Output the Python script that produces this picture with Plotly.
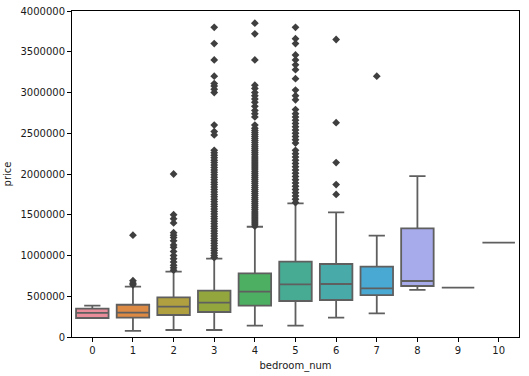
import plotly.graph_objects as go

categories = ["0", "1", "2", "3", "4", "5", "6", "7", "8", "9", "10"]
q1 = [233000, 237000, 270000, 307000, 384000, 442000, 454000, 515000, 626000, 605000, 1157000]
median = [295000, 298000, 372000, 421000, 556000, 646000, 650000, 597000, 687000, 605000, 1157000]
q3 = [347000, 396000, 487000, 568000, 781000, 924000, 896000, 863000, 1334000, 605000, 1157000]
lower = [233000, 74000, 86000, 86000, 139000, 139000, 237000, 291000, 577000, 605000, 1157000]
upper = [384000, 617000, 801000, 961000, 1353000, 1640000, 1530000, 1243000, 1975000, 605000, 1157000]
colors = ["#e98d9b", "#dd8a45", "#b0a040", "#93a63e", "#4daf62", "#47aa93",
          "#49aaaa", "#4aa9d3", "#a7aaeb", "#c98ce6", "#e48bc8"]

outliers = {
    "1": [640000, 660000, 690000, 1250000],
    "2": [820000, 850000, 880000, 920000, 960000, 1000000, 1050000, 1100000, 1130000,
          1180000, 1220000, 1250000, 1280000, 1400000, 1450000, 1500000, 2000000],
    "3": [975000, 1000000, 1030000, 1060000, 1090000, 1120000, 1150000, 1180000, 1210000,
          1240000, 1270000, 1300000, 1330000, 1360000, 1390000, 1420000, 1450000, 1480000,
          1510000, 1540000, 1570000, 1600000, 1630000, 1660000, 1690000, 1720000, 1750000,
          1780000, 1810000, 1840000, 1870000, 1900000, 1930000, 1960000, 1990000, 2020000,
          2050000, 2080000, 2110000, 2140000, 2170000, 2200000, 2230000, 2260000, 2290000,
          2480000, 2520000, 2600000, 3000000, 3040000, 3080000, 3110000, 3200000,
          3400000, 3600000, 3800000],
    "4": [1360000, 1385000, 1410000, 1435000, 1460000, 1485000, 1510000, 1535000, 1560000,
          1585000, 1610000, 1635000, 1660000, 1685000, 1710000, 1735000, 1760000, 1785000,
          1810000, 1835000, 1860000, 1885000, 1910000, 1935000, 1960000, 1985000, 2010000,
          2035000, 2060000, 2085000, 2110000, 2135000, 2160000, 2185000, 2210000, 2235000,
          2260000, 2285000, 2310000, 2335000, 2360000, 2385000, 2410000, 2435000, 2460000,
          2485000, 2510000, 2535000, 2560000, 2600000, 2700000, 2740000, 2780000, 2830000,
          2880000, 2920000, 2960000, 3000000, 3050000, 3090000, 3400000, 3720000, 3850000],
    "5": [1650000, 1690000, 1730000, 1770000, 1810000, 1850000, 1890000, 1930000, 1970000,
          2010000, 2050000, 2090000, 2130000, 2170000, 2210000, 2250000, 2290000,
          2380000, 2420000, 2460000, 2500000, 2540000, 2580000, 2620000, 2660000, 2700000,
          2740000, 2790000, 2910000, 2960000, 3030000, 3170000, 3280000, 3340000, 3400000,
          3460000, 3600000, 3660000, 3800000],
    "6": [1750000, 1870000, 2140000, 2630000, 3650000],
    "7": [3200000],
}

fig = go.Figure()
for i, c in enumerate(categories):
    fig.add_trace(go.Box(
        x=[c], q1=[q1[i]], median=[median[i]], q3=[q3[i]],
        lowerfence=[lower[i]], upperfence=[upper[i]],
        fillcolor=colors[i], line=dict(color="#5f5f5f", width=1.8),
        width=0.8, whiskerwidth=0.5, boxpoints=False, showlegend=False,
        hoverinfo="skip",
    ))
for c, vals in outliers.items():
    fig.add_trace(go.Scatter(
        x=[c] * len(vals), y=vals, mode="markers",
        marker=dict(symbol="diamond", size=6, color="#3f3f3f"),
        showlegend=False, hoverinfo="skip",
    ))

axis_common = dict(showline=True, linecolor="black", linewidth=1, mirror=True,
                   ticks="outside", ticklen=4, tickcolor="black", showgrid=False,
                   zeroline=False, tickfont=dict(size=10, color="#1a1a1a"),
                   ticklabeloverflow="allow", automargin=False)
fig.update_layout(
    width=529, height=376,
    margin=dict(l=72, r=10, t=11, b=39),
    paper_bgcolor="white", plot_bgcolor="white",
    font=dict(family="DejaVu Sans", size=10, color="#1a1a1a"),
    boxmode="overlay",
    xaxis=dict(axis_common, type="category", categoryorder="array",
               categoryarray=categories, range=[-0.5, 10.5],
               title=dict(text="bedroom_num", font=dict(size=10), standoff=6)),
    yaxis=dict(axis_common, range=[0, 4000000], tickmode="array",
               tickvals=[0, 500000, 1000000, 1500000, 2000000, 2500000, 3000000, 3500000, 4000000],
               ticktext=["0", "500000", "1000000", "1500000", "2000000", "2500000", "3000000", "3500000", "4000000"],
               title=dict(text="price", font=dict(size=10), standoff=6)),
)
fig.write_html("out.html", config={"displayModeBar": False},
               post_script="document.body.style.margin='0';")
